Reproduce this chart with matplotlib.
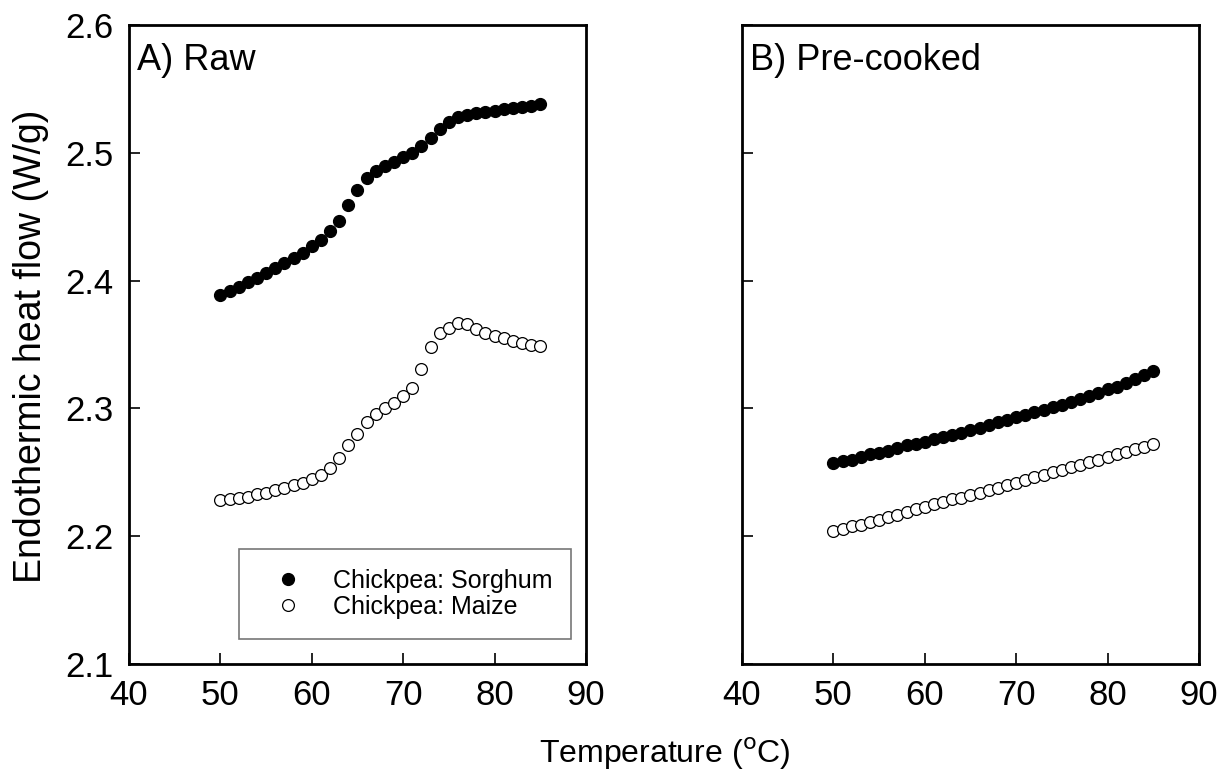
import numpy as np
import matplotlib
matplotlib.use("Agg")
import matplotlib.pyplot as plt

plt.rcParams['font.family'] = ['Liberation Sans', 'DejaVu Sans']

# Temperature (C), one reading per degree
temp = list(range(50, 86))

# A) Raw
raw_sorghum = [2.389, 2.392, 2.395, 2.399, 2.402, 2.406, 2.410, 2.414, 2.418, 2.422,
               2.427, 2.432, 2.439, 2.447, 2.459, 2.471, 2.480, 2.486, 2.490, 2.493,
               2.497, 2.500, 2.505, 2.512, 2.519, 2.524, 2.528, 2.530, 2.531, 2.532,
               2.533, 2.534, 2.535, 2.536, 2.537, 2.538]
raw_maize = [2.228, 2.229, 2.230, 2.231, 2.233, 2.234, 2.236, 2.238, 2.240, 2.242,
             2.245, 2.248, 2.253, 2.261, 2.271, 2.280, 2.289, 2.296, 2.300, 2.304,
             2.310, 2.316, 2.331, 2.348, 2.359, 2.363, 2.367, 2.366, 2.362, 2.359,
             2.357, 2.355, 2.353, 2.351, 2.350, 2.349]

# B) Pre-cooked
pre_sorghum = [2.257, 2.259, 2.260, 2.262, 2.264, 2.265, 2.267, 2.269, 2.271, 2.272,
               2.274, 2.276, 2.278, 2.279, 2.281, 2.283, 2.285, 2.287, 2.289, 2.291,
               2.293, 2.295, 2.297, 2.299, 2.301, 2.303, 2.305, 2.307, 2.310, 2.312,
               2.315, 2.317, 2.320, 2.323, 2.326, 2.329]
pre_maize = [2.204, 2.206, 2.208, 2.209, 2.211, 2.213, 2.215, 2.217, 2.219, 2.221,
             2.223, 2.225, 2.227, 2.229, 2.230, 2.232, 2.234, 2.236, 2.238, 2.240,
             2.242, 2.244, 2.246, 2.248, 2.250, 2.252, 2.254, 2.256, 2.258, 2.260,
             2.262, 2.264, 2.266, 2.268, 2.270, 2.272]

xticks = [40, 50, 60, 70, 80, 90]
yticks = [2.1, 2.2, 2.3, 2.4, 2.5, 2.6]

fig = plt.figure(figsize=(12.17, 7.78), dpi=100)
ax1 = fig.add_axes([0.106, 0.1465, 0.3755, 0.8213])
ax2 = fig.add_axes([0.6097, 0.1465, 0.3755, 0.8213])

for ax, s, m, title in [(ax1, raw_sorghum, raw_maize, "A) Raw"),
                        (ax2, pre_sorghum, pre_maize, "B) Pre-cooked")]:
    ax.plot(temp, s, "o", ms=8.5, mfc="black", mec="black", mew=1.0,
            label="Chickpea: Sorghum")
    ax.plot(temp, m, "o", ms=8.5, mfc="white", mec="black", mew=0.9,
            label="Chickpea: Maize")
    ax.set_xlim(40, 90)
    ax.set_ylim(2.1, 2.6)
    ax.set_xticks(xticks)
    ax.set_yticks(yticks)
    ax.tick_params(direction="in", length=8, width=1.2, labelsize=25, pad=11)
    for sp in ax.spines.values():
        sp.set_linewidth(2.0)
    ax.text(0.018, 0.944, title, transform=ax.transAxes, fontsize=26,
            ha="left", va="center")

ax2.set_yticklabels([])
fig.text(31 / 1217, 0.555, "Endothermic heat flow (W/g)", fontsize=27,
         rotation=90, ha="center", va="center")
fig.text(0.546, 0.031, "Temperature ($^{\\mathrm{o}}$C)", fontsize=23,
         ha="center", va="center")

leg = ax1.legend(loc="lower left", bbox_to_anchor=(0.2407, 0.039, 0.7265, 0.1424),
                 mode="expand", fontsize=18, frameon=True, fancybox=False,
                 borderpad=0.8, handletextpad=0.66, labelspacing=0.08,
                 borderaxespad=0, handlelength=2.3)
leg.get_frame().set_edgecolor("#555555")
leg.get_frame().set_linewidth(1.2)

fig.savefig("out.png", dpi=100)
